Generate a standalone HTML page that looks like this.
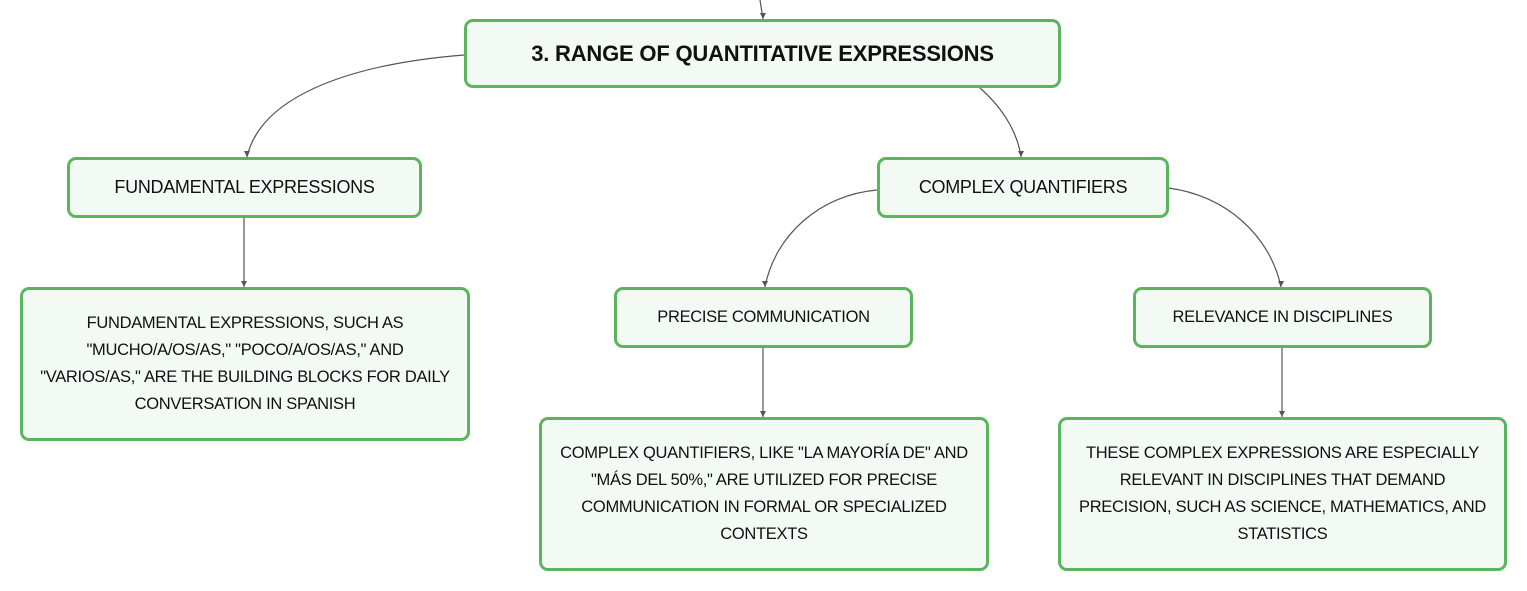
<!DOCTYPE html>
<html><head><meta charset="utf-8"><style>
body{margin:0;width:1527px;height:591px;background:#fff;position:relative;overflow:hidden;font-family:"Liberation Sans",sans-serif;}
.n{position:absolute;box-sizing:border-box;border:3px solid #5bb55f;border-radius:9px;background:#f3f9f3;display:flex;align-items:center;justify-content:center;text-align:center;color:#111;font-size:16.5px;line-height:27px;letter-spacing:-0.3px;}
svg{position:absolute;left:0;top:0}
</style></head><body>
<svg width="1527" height="591" fill="none" stroke="#555" stroke-width="1.2">
<path d="M760 0 L763 19"/>
<path d="M464 55 C340 65 260 100 247 157"/>
<path d="M980 88 C1005 110 1018 135 1021 157"/>
<path d="M877 190 C820 195 775 235 765 287"/>
<path d="M1168 188 C1225 195 1270 235 1281 287"/>
<path d="M244 217 L244 287"/>
<path d="M763 347 L763 417"/>
<path d="M1282 347 L1282 417"/>
<g fill="#555" stroke="none">
<path d="M244 287 l-3 -6 h6z"/><path d="M763 417 l-3 -6 h6z"/><path d="M1282 417 l-3 -6 h6z"/>
<path d="M247 157 l-3 -6 h6z"/><path d="M1021 157 l-3 -6 h6z"/><path d="M765 287 l-3 -6 h6z"/><path d="M1281 287 l-3 -6 h6z"/><path d="M763 19 l-3 -6 h6z"/>
</g>
</svg>
<div class="n" style="left:464px;top:19px;width:597px;height:69px;font-weight:bold;font-size:22px;letter-spacing:-0.2px">3. RANGE OF QUANTITATIVE EXPRESSIONS</div>
<div class="n" style="left:67px;top:157px;width:355px;height:61px;font-size:18px">FUNDAMENTAL EXPRESSIONS</div>
<div class="n" style="left:877px;top:157px;width:292px;height:61px;font-size:18px">COMPLEX QUANTIFIERS</div>
<div class="n" style="left:20px;top:287px;width:450px;height:154px;padding:0 10px">FUNDAMENTAL EXPRESSIONS, SUCH AS<br>"MUCHO/A/OS/AS," "POCO/A/OS/AS," AND<br>"VARIOS/AS," ARE THE BUILDING BLOCKS FOR DAILY<br>CONVERSATION IN SPANISH</div>
<div class="n" style="left:614px;top:287px;width:299px;height:61px">PRECISE COMMUNICATION</div>
<div class="n" style="left:1133px;top:287px;width:299px;height:61px">RELEVANCE IN DISCIPLINES</div>
<div class="n" style="left:539px;top:417px;width:450px;height:154px;padding:0 4px">COMPLEX QUANTIFIERS, LIKE "LA MAYORÍA DE" AND<br>"MÁS DEL 50%," ARE UTILIZED FOR PRECISE<br>COMMUNICATION IN FORMAL OR SPECIALIZED<br>CONTEXTS</div>
<div class="n" style="left:1058px;top:417px;width:449px;height:154px;padding:0 4px">THESE COMPLEX EXPRESSIONS ARE ESPECIALLY<br>RELEVANT IN DISCIPLINES THAT DEMAND<br>PRECISION, SUCH AS SCIENCE, MATHEMATICS, AND<br>STATISTICS</div>
</body></html>
